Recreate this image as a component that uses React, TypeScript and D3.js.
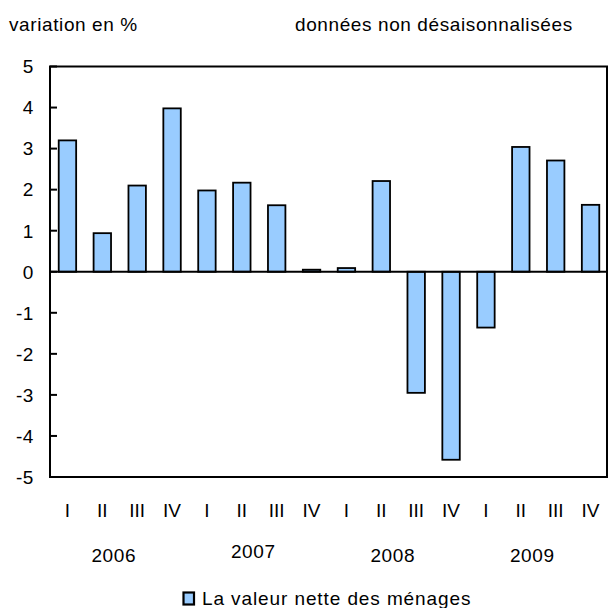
import * as d3 from "d3";
import React from "react";

// trimestres et années
const quarters = ["I", "II", "III", "IV"];
const years = ["2006", "2007", "2008", "2009"];
const periods = years.flatMap((y) => quarters.map((q) => `${y}-${q}`));

// variation en % de la valeur nette des ménages
const values = [
  3.2, 0.94, 2.1, 3.98, 1.98, 2.17, 1.62, 0.05, 0.09, 2.21, -2.95, -4.58,
  -1.36, 3.04, 2.71, 1.63,
];

const yTicks = [5, 4, 3, 2, 1, 0, -1, -2, -3, -4, -5];

const seriesName = "La valeur nette des ménages";
const unitLabel = "variation en %";
const noteLabel = "données non désaisonnalisées";

export default function App() {
  const width = 608;
  const height = 608;
  const margin = { top: 66.5, right: 0, bottom: 131, left: 50 };
  const plotRight = 607;
  const plotBottom = height - margin.bottom;

  const font = "'Liberation Sans', Arial, sans-serif";
  const fontSize = 19;
  const spacing = "0.6px";

  // échelles
  const x = d3
    .scaleBand<string>()
    .domain(periods)
    .range([margin.left, 608])
    .paddingInner(0.5)
    .paddingOuter(0.25);

  const y = d3.scaleLinear().domain([-5, 5]).range([plotBottom, margin.top]);

  const step = x.step();

  return (
    <svg
      width={width}
      height={height}
      style={{ position: "absolute", left: 0, top: 0, background: "#fff" }}
      fontFamily={font}
      fontSize={fontSize}
    >
      {/* titres */}
      <text x={9} y={31} letterSpacing={spacing}>
        {unitLabel}
      </text>
      <text x={295} y={31} letterSpacing={spacing}>
        {noteLabel}
      </text>

      {/* barres */}
      {values.map((v, i) => {
        const x0 = x(periods[i]) || 0;
        const y0 = y(Math.max(0, v));
        const h = Math.abs(y(v) - y(0));
        return (
          <rect
            key={periods[i]}
            x={x0}
            y={y0}
            width={x.bandwidth()}
            height={h}
            fill="#99CCFF"
            stroke="#000"
            strokeWidth={1.8}
          />
        );
      })}

      {/* cadre */}
      <rect
        x={margin.left}
        y={margin.top}
        width={plotRight - margin.left}
        height={plotBottom - margin.top}
        fill="none"
        stroke="#000"
        strokeWidth={2}
      />
      <line
        x1={margin.left}
        x2={plotRight}
        y1={y(0)}
        y2={y(0)}
        stroke="#000"
        strokeWidth={2}
      />

      {/* axe Y */}
      {yTicks.map((t) => (
        <g key={t}>
          <line
            x1={margin.left}
            x2={margin.left + 7}
            y1={y(t)}
            y2={y(t)}
            stroke="#000"
            strokeWidth={2}
          />
          <text
            x={34}
            y={y(t) + 6.8}
            textAnchor="end"
            letterSpacing={spacing}
          >
            {t}
          </text>
        </g>
      ))}

      {/* axe X : trimestres */}
      {periods.map((p, i) => (
        <text
          key={p}
          x={(x(p) || 0) + x.bandwidth() / 2}
          y={517}
          textAnchor="middle"
        >
          {quarters[i % 4]}
        </text>
      ))}

      {/* axe X : années */}
      {years.map((yr) => {
        const first = x(`${yr}-I`) || 0;
        const cx = first - (step - x.bandwidth()) / 2 + step * 2 - 6;
        return (
          <text
            key={yr}
            x={cx}
            y={yr === "2007" ? 558 : 562}
            textAnchor="middle"
            letterSpacing={spacing}
          >
            {yr}
          </text>
        );
      })}

      {/* légende */}
      <rect
        x={183.5}
        y={592.5}
        width={10.5}
        height={12}
        fill="#99CCFF"
        stroke="#000"
        strokeWidth={2.2}
      />
      <text x={202} y={605} letterSpacing="0.9px">
        {seriesName}
      </text>
    </svg>
  );
}
